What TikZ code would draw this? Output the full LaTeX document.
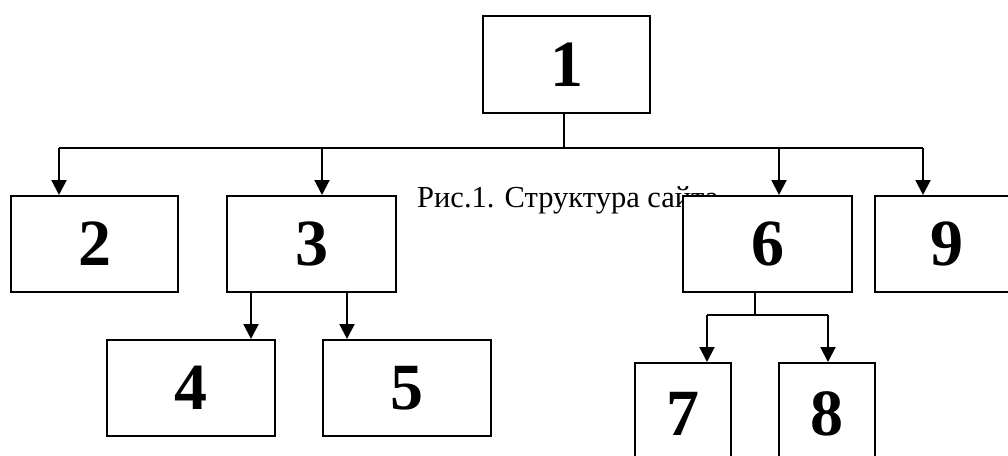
\documentclass[tikz,border=0pt]{standalone}
\usepackage{fontspec}
\setmainfont{Liberation Serif}
\newfontfamily\digitfont{Liberation Serif}[UprightFont=*-Bold]
\usetikzlibrary{arrows.meta}
\begin{document}
\begin{tikzpicture}[x=1pt,y=-1pt,
  box/.style={draw=black,line width=2pt,fill=white,rectangle,inner sep=0pt,
    font=\digitfont\fontsize{66}{66}\selectfont},
  wire/.style={line width=2pt},
  thin/.style={line width=1.5pt},
  arr/.style={line width=2pt,-{Triangle[length=15pt,width=15pt]}}]
\useasboundingbox (0,0) rectangle (1008,455);
\clip (0,0) rectangle (1008,455);
% caption (partly hidden by box 6)
\node[anchor=base west,inner sep=0pt,font=\fontsize{30.5}{30.5}\selectfont] (cap) at (417,207) {Рис.1. Структура сайта};
% boxes
\node[box,minimum width=167pt,minimum height=97pt] (n1) at (566.5,64.5) {1};
\node[box,minimum width=167pt,minimum height=96pt] (n2) at (94.5,244) {2};
\node[box,minimum width=169pt,minimum height=96pt] (n3) at (311.5,244) {3};
\node[box,minimum width=168pt,minimum height=96pt] (n4) at (191,388) {4};
\node[box,minimum width=168pt,minimum height=96pt] (n5) at (407,388) {5};
\node[box,minimum width=169pt,minimum height=96pt] (n6) at (767.5,244) {6};
\node[box,minimum width=144pt,minimum height=96pt] (n9) at (947,244) {9};
\node[box,minimum width=96pt,minimum height=102pt] (n7) at (683,414) {7};
\node[box,minimum width=96pt,minimum height=102pt] (n8) at (827,414) {8};
% top bus
\coordinate (t1) at (564,113);
\coordinate (b2) at (59,148);
\coordinate (b3) at (322,148);
\coordinate (b6) at (779,148);
\coordinate (b9) at (923,148);
\draw[wire] (t1) -- (t1 |- b2);
\draw[wire] (b2) -- (b9);
\draw[arr] (b2) -- (b2 |- n2.north);
\draw[arr] (b3) -- (b3 |- n3.north);
\draw[arr] (b6) -- (b6 |- n6.north);
\draw[arr] (b9) -- (b9 |- n9.north);
% box 3 children
\coordinate (s4) at (251,292);
\coordinate (s5) at (347,292);
\draw[arr] (s4) -- (s4 |- n4.north);
\draw[arr] (s5) -- (s5 |- n5.north);
% box 6 children
\coordinate (s6) at (755,292);
\coordinate (c7) at (707,315);
\coordinate (c8) at (828,315);
\draw[thin] (s6) -- (s6 |- c7);
\draw[wire] (c7) -- (c8);
\draw[arr] (c7) -- (c7 |- n7.north);
\draw[arr] (c8) -- (c8 |- n8.north);
\end{tikzpicture}
\end{document}
